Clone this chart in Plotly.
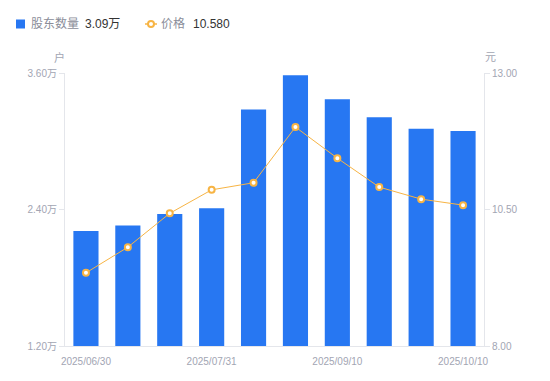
import plotly.graph_objects as go
from plotly.subplots import make_subplots

dates = ["2025/06/30", "2025/07/10", "2025/07/20", "2025/07/31", "2025/08/15",
         "2025/08/29", "2025/09/10", "2025/09/19", "2025/09/30", "2025/10/10"]
holders = [2.21, 2.26, 2.36, 2.41, 3.28, 3.58, 3.37, 3.21, 3.11, 3.09]  # 万户
price = [9.34, 9.81, 10.43, 10.86, 10.99, 12.01, 11.44, 10.91, 10.69, 10.58]
shown_dates = ["2025/06/30", "2025/07/31", "2025/09/10", "2025/10/10"]
left_ticks = [1.2, 2.4, 3.6]
right_ticks = [8.0, 10.5, 13.0]

BAR = "#2777F2"
ORANGE = "#F7B444"
AXIS = "#E4E6EB"
TICK = "#A2A5B3"
FONT = "Liberation Sans, Noto Sans CJK SC, sans-serif"

PAGE_OFF = 8  # default body margin of the html page
W, H = 550 - PAGE_OFF, 381 - PAGE_OFF
L, R, T, B = 65 - PAGE_OFF, 66, 73 - PAGE_OFF, 35
# plot area in page pixels
X0, X1, Y0, Y1 = 65, 484, 73, 346

def px(x):
    return (x - X0) / (X1 - X0)

def py(y):
    return (Y1 - y) / (Y1 - Y0)

fig = make_subplots(specs=[[{"secondary_y": True}]])
fig.add_trace(go.Bar(x=dates, y=holders, marker=dict(color=BAR, line=dict(width=0)),
                     showlegend=False, name="股东数量"), secondary_y=False)
fig.add_trace(go.Scatter(x=dates, y=price, mode="lines+markers", name="价格",
                         line=dict(color=ORANGE, width=1),
                         marker=dict(size=6, color="white", line=dict(color=ORANGE, width=2)),
                         showlegend=False), secondary_y=True)

fig.update_layout(
    width=W, height=H, margin=dict(l=L, r=R, t=T, b=B, autoexpand=False),
    paper_bgcolor="white", plot_bgcolor="white",
    bargap=0.4, font=dict(family=FONT, size=10, color=TICK),
)
fig.update_xaxes(type="category", range=[-0.5, len(dates) - 0.5], automargin=False,
                 domain=[0, 1], ticklabelstandoff=6,
                 tickvals=shown_dates, ticktext=shown_dates,
                 showline=True, linecolor=AXIS, linewidth=1, ticks="",
                 showgrid=False, tickfont=dict(size=10, color=TICK, family=FONT))
fig.update_yaxes(range=[left_ticks[0], left_ticks[-1]], tickvals=left_ticks, automargin=False,
                 ticktext=[f"{v:.2f}万" for v in left_ticks],
                 showline=True, linecolor=AXIS, ticks="outside", ticklen=5,
                 tickcolor=AXIS, showgrid=False, zeroline=False,
                 tickfont=dict(size=10, color=TICK, family=FONT), secondary_y=False)
fig.update_yaxes(range=[right_ticks[0], right_ticks[-1]], tickvals=right_ticks, automargin=False,
                 ticktext=[f"{v:.2f}" for v in right_ticks],
                 showline=True, linecolor=AXIS, ticks="outside", ticklen=5,
                 tickcolor=AXIS, showgrid=False, zeroline=False,
                 tickfont=dict(size=10, color=TICK, family=FONT), secondary_y=True)

def note(text, x, y, color, xanchor="center", size=12):
    fig.add_annotation(text=text, x=px(x), y=py(y), xref="paper", yref="paper",
                       xanchor=xanchor, yanchor="middle", showarrow=False,
                       font=dict(size=size, color=color, family=FONT))

# axis unit titles
note("户", 59, 57, TICK, size=11)
note("元", 490, 57, TICK, size=11)

# custom legend
LEG_Y = 24
fig.add_shape(type="rect", xref="paper", yref="paper", x0=px(16), x1=px(25),
              y0=py(LEG_Y + 4.5), y1=py(LEG_Y - 4.5), fillcolor=BAR, line=dict(width=0))
note("股东数量", 29, LEG_Y, "#8A8D99", "left")
note(f"{holders[-1]:.2f}万", 83, LEG_Y, "#333333", "left")
fig.add_shape(type="line", xref="paper", yref="paper", x0=px(145), x1=px(157),
              y0=py(LEG_Y), y1=py(LEG_Y), line=dict(color=ORANGE, width=1.5))
fig.add_shape(type="circle", xref="paper", yref="paper", x0=px(148), x1=px(154),
              y0=py(LEG_Y + 3), y1=py(LEG_Y - 3), fillcolor="white", line=dict(color=ORANGE, width=2))
note("价格", 159, LEG_Y, "#8A8D99", "left")
note(f"{price[-1]:.3f}", 191, LEG_Y, "#333333", "left")

fig.write_html("out.html")
